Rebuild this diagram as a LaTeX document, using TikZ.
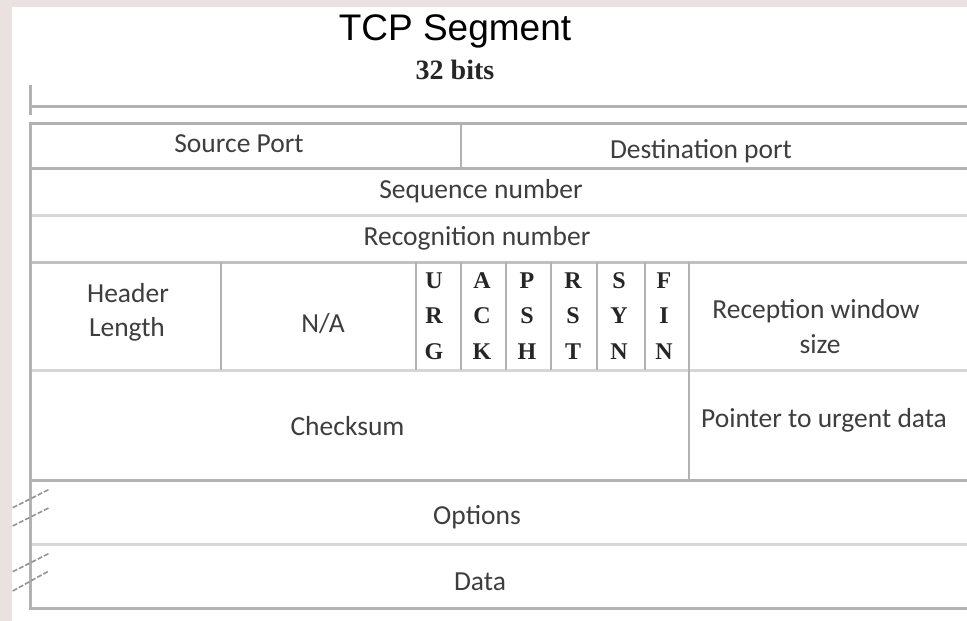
\documentclass[tikz,border=0pt]{standalone}
\usepackage{fontspec}
\setmainfont{Carlito}
\newfontfamily\headfont{Liberation Sans}
\newfontfamily\flagfont{Liberation Serif}
\definecolor{bgtone}{HTML}{EAE2E1}
\definecolor{ruleA}{HTML}{B2B2B2}
\definecolor{ruleB}{HTML}{D6D6D6}
\definecolor{ink}{HTML}{3E3E3E}
\begin{document}
\begin{tikzpicture}[x=1pt,y=-1pt,
  rule/.style={draw=ruleA, line width=3pt},
  softrule/.style={draw=ruleB, line width=3pt},
  divider/.style={draw=ruleA, line width=2.5pt},
  field/.style={font=\fontsize{27.5}{34}\selectfont, text=ink, inner sep=0pt, anchor=base},
  flagbit/.style={font=\flagfont\bfseries\fontsize{24}{36}\selectfont, text=black!85, inner sep=0pt, anchor=base},
  breakmark/.style={draw=gray!85, line width=1.6pt, dash pattern=on 5pt off 2pt}]
\useasboundingbox (0,0) rectangle (967,621);
% page backdrop and sheet
\fill[bgtone] (0,0) rectangle (967,621);
\fill[white] (12,7) rectangle (967,621);

% heading
\node[font=\headfont\fontsize{37}{40}\selectfont, text=black, inner sep=0pt, anchor=base] (title) at (455,40) {TCP Segment};
\node[font=\flagfont\bfseries\fontsize{28}{30}\selectfont, text=black!85, inner sep=0pt, anchor=base] (width) at (455,79) {32 bits};

% 32-bit scale line
\draw[rule] (30,106) -- (967,106);
\draw[rule] (30,85) -- (30,115);

% horizontal rules of the header table
\draw[rule] (30,123) -- (967,123);
\draw[rule] (30,168) -- (967,168);
\draw[softrule] (30,215) -- (967,215);
\draw[rule, draw=ruleA!80] (30,262) -- (967,262);
\draw[softrule] (30,370) -- (967,370);
\draw[rule] (30,480) -- (967,480);
\draw[softrule] (30,544) -- (967,544);
\draw[rule] (30,608) -- (967,608);
% left edge
\draw[rule] (30,121.5) -- (30,609.5);

% vertical dividers
\draw[divider] (461,123) -- (461,168);
\foreach \xx in {221,416,461,506,551,597,645,689}
  \draw[divider] (\xx,262) -- (\xx,370);
\draw[divider] (689,370) -- (689,480);

% break marks for variable-length fields
\draw[breakmark] (12.7,507.7) -- (49.3,489.3);
\draw[breakmark] (12.7,526) -- (49.3,507.7);
\draw[breakmark] (12.7,571.7) -- (49.3,553.3);
\draw[breakmark] (12.7,591) -- (49.3,570.7);

% field labels
\node[field] (srcport) at (239,152) {Source Port};
\node[field] (dstport) at (701,158) {Destination port};
\node[field] (seqnum) at (481,198) {Sequence number};
\node[field] (acknum) at (477,245) {Recognition number};
\node[field] (hdrlenA) at (128,302) {Header};
\node[field] (hdrlenB) at (127,336) {Length};
\node[field] (unused) at (323,332) {N/A};
\node[field] (winA) at (816,318) {Reception window};
\node[field] (winB) at (820,353) {size};
\node[field] (chksum) at (347.5,435) {Checksum};
\node[field] (urgptr) at (824,427) {Pointer to urgent data};
\node[field] (opts) at (477,524) {Options};
\node[field] (payload) at (480,590) {Data};

% control flag bits, written vertically
\foreach \cx/\la/\lb/\lc [count=\i] in
  {434/U/R/G, 482/A/C/K, 527/P/S/H, 573/R/S/T, 619/S/Y/N, 664/F/I/N} {
  \node[flagbit] (flag-\i-a) at (\cx,288) {\la};
  \node[flagbit] (flag-\i-b) at (\cx,323) {\lb};
  \node[flagbit] (flag-\i-c) at (\cx,359) {\lc};
}
\end{tikzpicture}
\end{document}
